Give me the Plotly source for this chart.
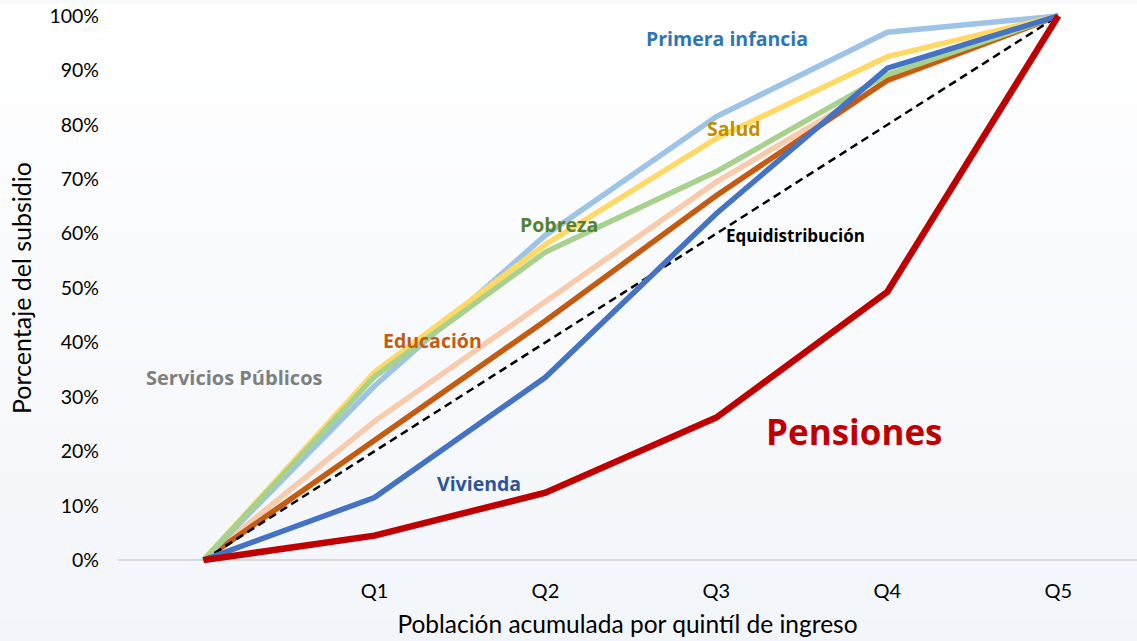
import plotly.graph_objects as go

# ---- data ----
x_pos = [0, 1, 2, 3, 4, 5]
tick_vals = [1, 2, 3, 4, 5]
tick_labels = ["Q1", "Q2", "Q3", "Q4", "Q5"]
y_ticks = [0, 0.1, 0.2, 0.3, 0.4, 0.5, 0.6, 0.7, 0.8, 0.9, 1.0]

servicios_publicos = [0, 0.255, 0.475, 0.695, 0.88, 1.0]
educacion = [0, 0.22, 0.44, 0.67, 0.882, 1.0]
primera_infancia = [0, 0.32, 0.597, 0.815, 0.97, 1.0]
salud = [0, 0.345, 0.58, 0.775, 0.925, 1.0]
pobreza = [0, 0.337, 0.566, 0.714, 0.892, 1.0]
equidistribucion = [0, 0.2, 0.4, 0.6, 0.8, 1.0]
vivienda = [0, 0.115, 0.336, 0.637, 0.904, 1.0]
pensiones = [0, 0.045, 0.124, 0.262, 0.493, 1.0]

series = [
    ("Servicios Públicos", servicios_publicos, "#F8CBAD", 5.5, "solid"),
    ("Educación", educacion, "#C55A11", 5.5, "solid"),
    ("Primera infancia", primera_infancia, "#9DC3E6", 5.5, "solid"),
    ("Salud", salud, "#FFD966", 5.5, "solid"),
    ("Pobreza", pobreza, "#A9D18E", 5.5, "solid"),
    ("Equidistribución", equidistribucion, "#000000", 2.5, "8px,5px"),
    ("Vivienda", vivienda, "#4472C4", 5.5, "solid"),
    ("Pensiones", pensiones, "#C00000", 6.5, "solid"),
]

labels = [
    ("Primera infancia", 3.06, 0.958, "#2E75B6", 19.5),
    ("Salud", 3.10, 0.794, "#BF9000", 19.5),
    ("Pobreza", 2.08, 0.616, "#548235", 19.5),
    ("Equidistribución", 3.46, 0.596, "#000000", 17),
    ("Educación", 1.34, 0.404, "#C55A11", 19.5),
    ("Servicios Públicos", 0.18, 0.336, "#7F7F7F", 20),
    ("Vivienda", 1.61, 0.14, "#2F5597", 19.5),
    ("Pensiones", 3.81, 0.237, "#C00000", 35),
]

FONT = "Lato"
LABEL_FONT = "Open Sans"

fig = go.Figure()
for name, vals, color, width, dash in series:
    fig.add_trace(go.Scatter(
        x=x_pos, y=vals, mode="lines", name=name,
        line=dict(color=color, width=width, dash=dash),
        showlegend=False, hoverinfo="skip",
    ))

# background gradient (white top -> pale blue-grey bottom)
n_bands = 40
y_lo, y_hi = -0.14, 1.0
top_rgb = (255, 255, 255)
bot_rgb = (242, 245, 250)
shapes = []
for i in range(n_bands):
    t = i / (n_bands - 1)
    r = round(bot_rgb[0] + (top_rgb[0] - bot_rgb[0]) * t)
    g = round(bot_rgb[1] + (top_rgb[1] - bot_rgb[1]) * t)
    b = round(bot_rgb[2] + (top_rgb[2] - bot_rgb[2]) * t)
    y0 = y_lo + (y_hi - y_lo) * i / n_bands
    y1 = y_lo + (y_hi - y_lo) * (i + 1) / n_bands + 0.002
    shapes.append(dict(type="rect", xref="paper", yref="paper",
                       x0=-0.15, x1=1.05, y0=y0, y1=y1,
                       fillcolor=f"rgb({r},{g},{b})", line=dict(width=0),
                       layer="below"))

annotations = []
for text, ax, ay, col, size in labels:
    annotations.append(dict(x=ax, y=ay, xref="x", yref="y", text=f"<b>{text}</b>",
                            showarrow=False, font=dict(family=LABEL_FONT, size=size, color=col)))

fig.update_layout(
    width=1137, height=641,
    margin=dict(l=117.5, r=0, t=5, b=70, autoexpand=False),
    paper_bgcolor="#F8FAFC",
    plot_bgcolor="rgba(0,0,0,0)",
    shapes=shapes,
    annotations=annotations,
    font=dict(family=FONT, color="#000000"),
    xaxis=dict(
        range=[-0.5, 5.46], tickvals=tick_vals, ticktext=tick_labels,
        showgrid=False, zeroline=False, showline=False, automargin=False,
        tickfont=dict(family=FONT, size=20, color="#000000"),
        ticklabelstandoff=6, ticklabeloverflow="allow",
        title=dict(text="Población acumulada por quintíl de ingreso",
                   font=dict(family=FONT, size=24.5, color="#000000"), standoff=14),
    ),
    yaxis=dict(
        range=[-0.02, 1.02], tickvals=y_ticks, tickformat=".0%",
        showgrid=False, zeroline=True, zerolinecolor="#D9D9D9", zerolinewidth=1.5,
        showline=False, automargin=False,
        tickfont=dict(family=FONT, size=19.5, color="#000000"),
        ticklabelstandoff=18, ticklabeloverflow="allow",
        title=dict(text="Porcentaje del subsidio",
                   font=dict(family=FONT, size=25, color="#000000"), standoff=10),
    ),
)

fig.write_html(
    "out.html",
    config={"displayModeBar": False},
    post_script="document.body.style.margin='0px';document.body.style.overflow='hidden';",
)
